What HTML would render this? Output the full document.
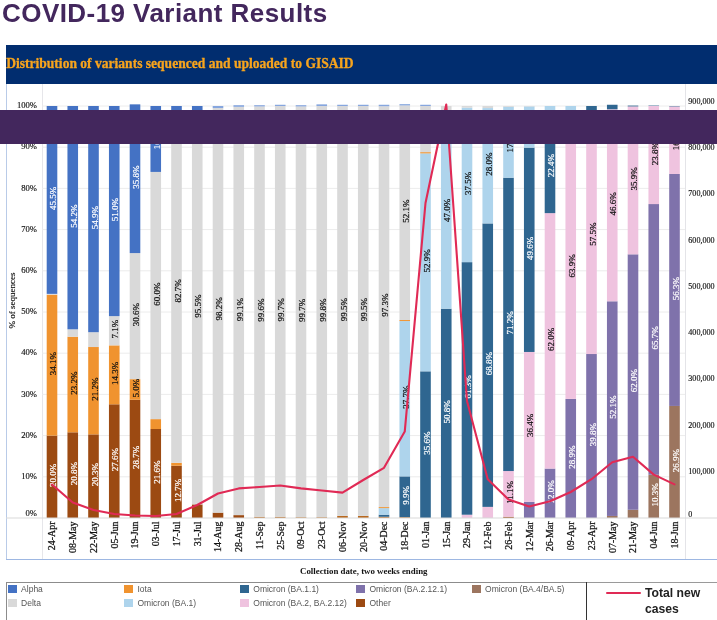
<!DOCTYPE html>
<html><head><meta charset="utf-8"><title>COVID-19 Variant Results</title>
<style>
html,body{margin:0;padding:0;background:#fff;}
body{width:717px;height:620px;position:relative;overflow:hidden;font-family:"Liberation Sans",sans-serif;}
h1{position:absolute;left:2px;top:-4.2px;margin:0;font:bold 26px/34px "Liberation Sans",sans-serif;color:#43275d;letter-spacing:0.44px;white-space:nowrap;transform-origin:0 0;}
.hdr{position:absolute;left:6px;top:44.7px;width:711px;height:39.2px;background:#012d6f;}
.hdr span{position:absolute;left:0.2px;top:1.1px;font:bold 13.55px/36px "Liberation Serif",serif;color:#f7a41d;-webkit-text-stroke:0.3px #f7a41d;white-space:nowrap;}
svg.chart{position:absolute;left:0;top:0;}
svg text{font-family:"Liberation Serif",serif;}
.band{position:absolute;left:0;top:110px;width:717px;height:34px;background:#43275d;}
.frameL{position:absolute;left:6px;top:84px;width:1px;height:476px;background:#b9cbe8;}
.frameB{position:absolute;left:6px;top:559.3px;width:711px;height:1.2px;background:#9db7e2;}
.v1{position:absolute;left:41.5px;top:84px;width:1px;height:476px;background:#e6e6ea;}
.v2{position:absolute;left:684.5px;top:84px;width:1px;height:476px;background:#e4e4e8;}
.xt{position:absolute;left:300px;top:564px;font:bold 8.85px/14px "Liberation Serif",serif;color:#111;white-space:nowrap;}
.leg{position:absolute;left:6px;top:581.5px;width:581px;height:40px;border-top:1px solid #8c8c8c;border-left:1px solid #8c8c8c;box-sizing:border-box;}
.li{position:absolute;font-size:8.5px;line-height:10px;color:#555;white-space:nowrap;}
.li i{position:absolute;left:0;top:0.6px;width:8.6px;height:8px;display:block;}
.li b{position:absolute;left:13.1px;top:-0.7px;font-weight:normal;}
.div{position:absolute;left:586.3px;top:582px;width:1.2px;height:38px;background:#333;}
.rtop{position:absolute;left:587px;top:581.5px;width:130px;height:1px;background:#9a9a9a;}
.rl{position:absolute;left:606px;top:591.9px;width:34.5px;height:2.6px;background:#e02a55;border-radius:1px;}
.tn{position:absolute;left:645px;top:584.8px;font:bold 12.2px/16.5px "Liberation Sans",sans-serif;color:#222;white-space:nowrap;}
</style></head><body>
<h1>COVID-19 Variant Results</h1>
<div class="hdr"><span>Distribution of variants sequenced and uploaded to GISAID</span></div>
<div class="frameL"></div><div class="v1"></div><div class="v2"></div>
<svg class="chart" width="717" height="620" viewBox="0 0 717 620">
<line x1="42" x2="685" y1="476.8" y2="476.8" stroke="#ececec" stroke-width="1"/>
<line x1="42" x2="685" y1="435.6" y2="435.6" stroke="#ececec" stroke-width="1"/>
<line x1="42" x2="685" y1="394.4" y2="394.4" stroke="#ececec" stroke-width="1"/>
<line x1="42" x2="685" y1="353.2" y2="353.2" stroke="#ececec" stroke-width="1"/>
<line x1="42" x2="685" y1="312.0" y2="312.0" stroke="#ececec" stroke-width="1"/>
<line x1="42" x2="685" y1="270.8" y2="270.8" stroke="#ececec" stroke-width="1"/>
<line x1="42" x2="685" y1="229.6" y2="229.6" stroke="#ececec" stroke-width="1"/>
<line x1="42" x2="685" y1="188.4" y2="188.4" stroke="#ececec" stroke-width="1"/>
<line x1="42" x2="685" y1="147.2" y2="147.2" stroke="#ececec" stroke-width="1"/>
<line x1="42" x2="685" y1="106.0" y2="106.0" stroke="#ececec" stroke-width="1"/>
<rect x="46.70" y="435.60" width="10.6" height="82.40" fill="#9c4a12"/>
<rect x="46.70" y="294.70" width="10.6" height="140.90" fill="#f0932f"/>
<rect x="46.70" y="293.87" width="10.6" height="0.82" fill="#d9d9d9"/>
<rect x="46.70" y="106.00" width="10.6" height="187.87" fill="#4472c4"/>
<rect x="67.45" y="432.30" width="10.6" height="85.70" fill="#9c4a12"/>
<rect x="67.45" y="336.72" width="10.6" height="95.58" fill="#f0932f"/>
<rect x="67.45" y="329.30" width="10.6" height="7.42" fill="#d9d9d9"/>
<rect x="67.45" y="106.00" width="10.6" height="223.30" fill="#4472c4"/>
<rect x="88.20" y="434.36" width="10.6" height="83.64" fill="#9c4a12"/>
<rect x="88.20" y="347.02" width="10.6" height="87.34" fill="#f0932f"/>
<rect x="88.20" y="332.19" width="10.6" height="14.83" fill="#d9d9d9"/>
<rect x="88.20" y="106.00" width="10.6" height="226.19" fill="#4472c4"/>
<rect x="108.95" y="404.29" width="10.6" height="113.71" fill="#9c4a12"/>
<rect x="108.95" y="345.37" width="10.6" height="58.92" fill="#f0932f"/>
<rect x="108.95" y="316.12" width="10.6" height="29.25" fill="#d9d9d9"/>
<rect x="108.95" y="106.00" width="10.6" height="210.12" fill="#4472c4"/>
<rect x="129.70" y="399.76" width="10.6" height="118.24" fill="#9c4a12"/>
<rect x="129.70" y="379.16" width="10.6" height="20.60" fill="#f0932f"/>
<rect x="129.70" y="253.08" width="10.6" height="126.07" fill="#d9d9d9"/>
<rect x="129.70" y="104.35" width="10.6" height="148.73" fill="#4472c4"/>
<rect x="150.45" y="429.01" width="10.6" height="88.99" fill="#9c4a12"/>
<rect x="150.45" y="419.12" width="10.6" height="9.89" fill="#f0932f"/>
<rect x="150.45" y="171.92" width="10.6" height="247.20" fill="#d9d9d9"/>
<rect x="150.45" y="106.00" width="10.6" height="65.92" fill="#4472c4"/>
<rect x="171.20" y="465.68" width="10.6" height="52.32" fill="#9c4a12"/>
<rect x="171.20" y="462.79" width="10.6" height="2.88" fill="#f0932f"/>
<rect x="171.20" y="122.07" width="10.6" height="340.72" fill="#d9d9d9"/>
<rect x="171.20" y="106.00" width="10.6" height="16.07" fill="#4472c4"/>
<rect x="191.95" y="504.40" width="10.6" height="13.60" fill="#9c4a12"/>
<rect x="191.95" y="110.94" width="10.6" height="393.46" fill="#d9d9d9"/>
<rect x="191.95" y="106.00" width="10.6" height="4.94" fill="#4472c4"/>
<rect x="212.70" y="512.64" width="10.6" height="5.36" fill="#9c4a12"/>
<rect x="212.70" y="108.06" width="10.6" height="404.58" fill="#d9d9d9"/>
<rect x="212.70" y="106.00" width="10.6" height="2.06" fill="#86a6de"/>
<rect x="233.45" y="515.12" width="10.6" height="2.88" fill="#9c4a12"/>
<rect x="233.45" y="106.82" width="10.6" height="408.29" fill="#d9d9d9"/>
<rect x="233.45" y="105.18" width="10.6" height="1.65" fill="#86a6de"/>
<rect x="254.20" y="516.76" width="10.6" height="1.24" fill="#b8691f"/>
<rect x="254.20" y="106.41" width="10.6" height="410.35" fill="#d9d9d9"/>
<rect x="254.20" y="105.18" width="10.6" height="1.24" fill="#86a6de"/>
<rect x="274.95" y="516.76" width="10.6" height="1.24" fill="#b8691f"/>
<rect x="274.95" y="106.00" width="10.6" height="410.76" fill="#d9d9d9"/>
<rect x="274.95" y="104.76" width="10.6" height="1.24" fill="#86a6de"/>
<rect x="295.70" y="517.18" width="10.6" height="0.82" fill="#b8691f"/>
<rect x="295.70" y="106.41" width="10.6" height="410.76" fill="#d9d9d9"/>
<rect x="295.70" y="105.18" width="10.6" height="1.24" fill="#86a6de"/>
<rect x="316.45" y="517.18" width="10.6" height="0.82" fill="#b8691f"/>
<rect x="316.45" y="106.00" width="10.6" height="411.18" fill="#d9d9d9"/>
<rect x="316.45" y="104.35" width="10.6" height="1.65" fill="#86a6de"/>
<rect x="337.20" y="515.94" width="10.6" height="2.06" fill="#b8691f"/>
<rect x="337.20" y="106.00" width="10.6" height="409.94" fill="#d9d9d9"/>
<rect x="337.20" y="104.76" width="10.6" height="1.24" fill="#86a6de"/>
<rect x="357.95" y="515.94" width="10.6" height="2.06" fill="#b8691f"/>
<rect x="357.95" y="106.00" width="10.6" height="409.94" fill="#d9d9d9"/>
<rect x="357.95" y="104.76" width="10.6" height="1.24" fill="#86a6de"/>
<rect x="378.70" y="516.76" width="10.6" height="1.24" fill="#b8691f"/>
<rect x="378.70" y="514.70" width="10.6" height="2.06" fill="#2f6690"/>
<rect x="378.70" y="508.11" width="10.6" height="6.59" fill="#aed4ec"/>
<rect x="378.70" y="507.08" width="10.6" height="1.03" fill="#f0932f"/>
<rect x="378.70" y="106.21" width="10.6" height="400.88" fill="#d9d9d9"/>
<rect x="378.70" y="104.76" width="10.6" height="1.44" fill="#86a6de"/>
<rect x="399.45" y="517.18" width="10.6" height="0.82" fill="#b8691f"/>
<rect x="399.45" y="476.39" width="10.6" height="40.79" fill="#2f6690"/>
<rect x="399.45" y="321.06" width="10.6" height="155.32" fill="#aed4ec"/>
<rect x="399.45" y="320.03" width="10.6" height="1.03" fill="#f0932f"/>
<rect x="399.45" y="105.38" width="10.6" height="214.65" fill="#d9d9d9"/>
<rect x="399.45" y="104.15" width="10.6" height="1.24" fill="#86a6de"/>
<rect x="420.20" y="371.33" width="10.6" height="146.67" fill="#2f6690"/>
<rect x="420.20" y="153.38" width="10.6" height="217.95" fill="#aed4ec"/>
<rect x="420.20" y="152.14" width="10.6" height="1.24" fill="#f0932f"/>
<rect x="420.20" y="106.00" width="10.6" height="46.14" fill="#d9d9d9"/>
<rect x="420.20" y="104.76" width="10.6" height="1.24" fill="#86a6de"/>
<rect x="440.95" y="308.70" width="10.6" height="209.30" fill="#2f6690"/>
<rect x="440.95" y="115.06" width="10.6" height="193.64" fill="#aed4ec"/>
<rect x="440.95" y="106.00" width="10.6" height="9.06" fill="#d9d9d9"/>
<rect x="461.70" y="514.70" width="10.6" height="3.30" fill="#efc3df"/>
<rect x="461.70" y="262.15" width="10.6" height="252.56" fill="#2f6690"/>
<rect x="461.70" y="107.65" width="10.6" height="154.50" fill="#aed4ec"/>
<rect x="461.70" y="106.00" width="10.6" height="1.65" fill="#d9d9d9"/>
<rect x="482.45" y="506.88" width="10.6" height="11.12" fill="#efc3df"/>
<rect x="482.45" y="223.42" width="10.6" height="283.46" fill="#2f6690"/>
<rect x="482.45" y="108.06" width="10.6" height="115.36" fill="#aed4ec"/>
<rect x="482.45" y="106.00" width="10.6" height="2.06" fill="#d9d9d9"/>
<rect x="503.20" y="516.76" width="10.6" height="1.24" fill="#9c4a12"/>
<rect x="503.20" y="471.03" width="10.6" height="45.73" fill="#efc3df"/>
<rect x="503.20" y="177.69" width="10.6" height="293.34" fill="#2f6690"/>
<rect x="503.20" y="106.82" width="10.6" height="70.86" fill="#aed4ec"/>
<rect x="503.20" y="106.00" width="10.6" height="0.82" fill="#d9d9d9"/>
<rect x="523.95" y="501.93" width="10.6" height="16.07" fill="#7f72ab"/>
<rect x="523.95" y="351.96" width="10.6" height="149.97" fill="#efc3df"/>
<rect x="523.95" y="147.61" width="10.6" height="204.35" fill="#2f6690"/>
<rect x="523.95" y="106.41" width="10.6" height="41.20" fill="#aed4ec"/>
<rect x="523.95" y="106.00" width="10.6" height="0.41" fill="#d9d9d9"/>
<rect x="544.70" y="468.56" width="10.6" height="49.44" fill="#7f72ab"/>
<rect x="544.70" y="213.12" width="10.6" height="255.44" fill="#efc3df"/>
<rect x="544.70" y="120.83" width="10.6" height="92.29" fill="#2f6690"/>
<rect x="544.70" y="106.00" width="10.6" height="14.83" fill="#aed4ec"/>
<rect x="565.45" y="398.93" width="10.6" height="119.07" fill="#7f72ab"/>
<rect x="565.45" y="135.66" width="10.6" height="263.27" fill="#efc3df"/>
<rect x="565.45" y="110.12" width="10.6" height="25.54" fill="#2f6690"/>
<rect x="565.45" y="106.00" width="10.6" height="4.12" fill="#aed4ec"/>
<rect x="586.20" y="354.02" width="10.6" height="163.98" fill="#7f72ab"/>
<rect x="586.20" y="117.12" width="10.6" height="236.90" fill="#efc3df"/>
<rect x="586.20" y="106.00" width="10.6" height="11.12" fill="#2f6690"/>
<rect x="606.95" y="515.94" width="10.6" height="2.06" fill="#9c755f"/>
<rect x="606.95" y="301.29" width="10.6" height="214.65" fill="#7f72ab"/>
<rect x="606.95" y="109.30" width="10.6" height="191.99" fill="#efc3df"/>
<rect x="606.95" y="104.76" width="10.6" height="4.53" fill="#2f6690"/>
<rect x="627.70" y="509.76" width="10.6" height="8.24" fill="#9c755f"/>
<rect x="627.70" y="254.32" width="10.6" height="255.44" fill="#7f72ab"/>
<rect x="627.70" y="106.41" width="10.6" height="147.91" fill="#efc3df"/>
<rect x="627.70" y="105.59" width="10.6" height="0.82" fill="#2f6690"/>
<rect x="648.45" y="474.74" width="10.6" height="43.26" fill="#9c755f"/>
<rect x="648.45" y="204.06" width="10.6" height="270.68" fill="#7f72ab"/>
<rect x="648.45" y="106.00" width="10.6" height="98.06" fill="#efc3df"/>
<rect x="648.45" y="105.59" width="10.6" height="0.41" fill="#2f6690"/>
<rect x="669.20" y="405.94" width="10.6" height="112.06" fill="#9c755f"/>
<rect x="669.20" y="173.98" width="10.6" height="231.96" fill="#7f72ab"/>
<rect x="669.20" y="106.41" width="10.6" height="67.57" fill="#efc3df"/>
<rect x="669.20" y="106.00" width="10.6" height="0.41" fill="#2f6690"/>
<g font-size="9" stroke-width="0.2"><text transform="translate(56.10,475.3) rotate(-90)" text-anchor="middle" fill="#fff" stroke="#fff">20.0%</text><text transform="translate(56.10,363.6) rotate(-90)" text-anchor="middle" fill="#111" stroke="#111">34.1%</text><text transform="translate(56.10,198.4) rotate(-90)" text-anchor="middle" fill="#fff" stroke="#fff">45.5%</text><text transform="translate(76.85,473.7) rotate(-90)" text-anchor="middle" fill="#fff" stroke="#fff">20.8%</text><text transform="translate(76.85,383.0) rotate(-90)" text-anchor="middle" fill="#111" stroke="#111">23.2%</text><text transform="translate(76.85,216.2) rotate(-90)" text-anchor="middle" fill="#fff" stroke="#fff">54.2%</text><text transform="translate(97.60,474.7) rotate(-90)" text-anchor="middle" fill="#fff" stroke="#fff">20.3%</text><text transform="translate(97.60,389.2) rotate(-90)" text-anchor="middle" fill="#111" stroke="#111">21.2%</text><text transform="translate(97.60,217.6) rotate(-90)" text-anchor="middle" fill="#fff" stroke="#fff">54.9%</text><text transform="translate(118.35,459.6) rotate(-90)" text-anchor="middle" fill="#fff" stroke="#fff">27.6%</text><text transform="translate(118.35,373.3) rotate(-90)" text-anchor="middle" fill="#111" stroke="#111">14.3%</text><text transform="translate(118.35,329.2) rotate(-90)" text-anchor="middle" fill="#111" stroke="#111">7.1%</text><text transform="translate(118.35,209.6) rotate(-90)" text-anchor="middle" fill="#fff" stroke="#fff">51.0%</text><text transform="translate(139.10,457.4) rotate(-90)" text-anchor="middle" fill="#fff" stroke="#fff">28.7%</text><text transform="translate(139.10,388.0) rotate(-90)" text-anchor="middle" fill="#111" stroke="#111">5.0%</text><text transform="translate(139.10,314.6) rotate(-90)" text-anchor="middle" fill="#111" stroke="#111">30.6%</text><text transform="translate(139.10,177.2) rotate(-90)" text-anchor="middle" fill="#fff" stroke="#fff">35.8%</text><text transform="translate(159.85,472.0) rotate(-90)" text-anchor="middle" fill="#fff" stroke="#fff">21.6%</text><text transform="translate(159.85,294.0) rotate(-90)" text-anchor="middle" fill="#111" stroke="#111">60.0%</text><text transform="translate(159.85,137.5) rotate(-90)" text-anchor="middle" fill="#fff" stroke="#fff">16.0%</text><text transform="translate(180.60,490.3) rotate(-90)" text-anchor="middle" fill="#fff" stroke="#fff">12.7%</text><text transform="translate(180.60,290.9) rotate(-90)" text-anchor="middle" fill="#111" stroke="#111">82.7%</text><text transform="translate(201.35,306.2) rotate(-90)" text-anchor="middle" fill="#111" stroke="#111">95.5%</text><text transform="translate(222.10,308.9) rotate(-90)" text-anchor="middle" fill="#111" stroke="#111">98.2%</text><text transform="translate(242.85,309.5) rotate(-90)" text-anchor="middle" fill="#111" stroke="#111">99.1%</text><text transform="translate(263.60,310.1) rotate(-90)" text-anchor="middle" fill="#111" stroke="#111">99.6%</text><text transform="translate(284.35,309.9) rotate(-90)" text-anchor="middle" fill="#111" stroke="#111">99.7%</text><text transform="translate(305.10,310.3) rotate(-90)" text-anchor="middle" fill="#111" stroke="#111">99.7%</text><text transform="translate(325.85,310.1) rotate(-90)" text-anchor="middle" fill="#111" stroke="#111">99.8%</text><text transform="translate(346.60,309.5) rotate(-90)" text-anchor="middle" fill="#111" stroke="#111">99.5%</text><text transform="translate(367.35,309.5) rotate(-90)" text-anchor="middle" fill="#111" stroke="#111">99.5%</text><text transform="translate(388.10,305.1) rotate(-90)" text-anchor="middle" fill="#111" stroke="#111">97.3%</text><text transform="translate(408.85,495.3) rotate(-90)" text-anchor="middle" fill="#fff" stroke="#fff">9.9%</text><text transform="translate(408.85,397.2) rotate(-90)" text-anchor="middle" fill="#111" stroke="#111">37.7%</text><text transform="translate(408.85,211.2) rotate(-90)" text-anchor="middle" fill="#111" stroke="#111">52.1%</text><text transform="translate(429.60,443.2) rotate(-90)" text-anchor="middle" fill="#fff" stroke="#fff">35.6%</text><text transform="translate(429.60,260.9) rotate(-90)" text-anchor="middle" fill="#111" stroke="#111">52.9%</text><text transform="translate(429.60,127.6) rotate(-90)" text-anchor="middle" fill="#111" stroke="#111">11.2%</text><text transform="translate(450.35,411.9) rotate(-90)" text-anchor="middle" fill="#fff" stroke="#fff">50.8%</text><text transform="translate(450.35,210.4) rotate(-90)" text-anchor="middle" fill="#111" stroke="#111">47.0%</text><text transform="translate(471.10,386.9) rotate(-90)" text-anchor="middle" fill="#fff" stroke="#fff">61.3%</text><text transform="translate(471.10,183.4) rotate(-90)" text-anchor="middle" fill="#111" stroke="#111">37.5%</text><text transform="translate(491.85,363.6) rotate(-90)" text-anchor="middle" fill="#fff" stroke="#fff">68.8%</text><text transform="translate(491.85,164.2) rotate(-90)" text-anchor="middle" fill="#111" stroke="#111">28.0%</text><text transform="translate(512.60,492.4) rotate(-90)" text-anchor="middle" fill="#111" stroke="#111">11.1%</text><text transform="translate(512.60,322.9) rotate(-90)" text-anchor="middle" fill="#fff" stroke="#fff">71.2%</text><text transform="translate(512.60,140.8) rotate(-90)" text-anchor="middle" fill="#111" stroke="#111">17.2%</text><text transform="translate(533.35,425.4) rotate(-90)" text-anchor="middle" fill="#111" stroke="#111">36.4%</text><text transform="translate(533.35,248.3) rotate(-90)" text-anchor="middle" fill="#fff" stroke="#fff">49.6%</text><text transform="translate(533.35,125.5) rotate(-90)" text-anchor="middle" fill="#111" stroke="#111">10.0%</text><text transform="translate(554.10,491.8) rotate(-90)" text-anchor="middle" fill="#fff" stroke="#fff">12.0%</text><text transform="translate(554.10,339.3) rotate(-90)" text-anchor="middle" fill="#111" stroke="#111">62.0%</text><text transform="translate(554.10,165.5) rotate(-90)" text-anchor="middle" fill="#fff" stroke="#fff">22.4%</text><text transform="translate(574.85,457.0) rotate(-90)" text-anchor="middle" fill="#fff" stroke="#fff">28.9%</text><text transform="translate(574.85,265.8) rotate(-90)" text-anchor="middle" fill="#111" stroke="#111">63.9%</text><text transform="translate(574.85,121.4) rotate(-90)" text-anchor="middle" fill="#fff" stroke="#fff">6.2%</text><text transform="translate(595.60,434.5) rotate(-90)" text-anchor="middle" fill="#fff" stroke="#fff">39.8%</text><text transform="translate(595.60,234.1) rotate(-90)" text-anchor="middle" fill="#111" stroke="#111">57.5%</text><text transform="translate(616.35,407.1) rotate(-90)" text-anchor="middle" fill="#fff" stroke="#fff">52.1%</text><text transform="translate(616.35,203.8) rotate(-90)" text-anchor="middle" fill="#111" stroke="#111">46.6%</text><text transform="translate(637.10,380.5) rotate(-90)" text-anchor="middle" fill="#fff" stroke="#fff">62.0%</text><text transform="translate(637.10,178.9) rotate(-90)" text-anchor="middle" fill="#111" stroke="#111">35.9%</text><text transform="translate(657.85,494.9) rotate(-90)" text-anchor="middle" fill="#fff" stroke="#fff">10.3%</text><text transform="translate(657.85,337.9) rotate(-90)" text-anchor="middle" fill="#fff" stroke="#fff">65.7%</text><text transform="translate(657.85,153.5) rotate(-90)" text-anchor="middle" fill="#111" stroke="#111">23.8%</text><text transform="translate(678.60,460.5) rotate(-90)" text-anchor="middle" fill="#fff" stroke="#fff">26.9%</text><text transform="translate(678.60,288.5) rotate(-90)" text-anchor="middle" fill="#fff" stroke="#fff">56.3%</text><text transform="translate(678.60,138.7) rotate(-90)" text-anchor="middle" fill="#111" stroke="#111">16.4%</text></g>
<line x1="6" x2="717" y1="518" y2="518" stroke="#d9d9d9" stroke-width="1"/>
<polyline points="52.00,484.5 72.75,502.5 93.50,510 114.25,514 135.00,515.5 155.75,516 176.50,514 197.25,505 218.00,493.5 238.75,488.4 259.50,487 280.25,485.5 301.00,488.4 321.75,490.5 342.50,492.6 363.25,480 384.00,467.8 404.75,431.6 425.50,203 446.25,104.5 467.00,401 487.75,479.3 508.50,499.5 529.25,506.5 550.00,501.3 570.75,492 591.50,479.2 612.25,462.3 633.00,456.8 653.75,474.6 674.50,484.4" fill="none" stroke="#e02a55" stroke-width="2.1" stroke-linejoin="round" stroke-linecap="round"/>
<g font-size="9.95" fill="#111" stroke="#111" stroke-width="0.25"><text transform="translate(55.40,521.5) rotate(-90)" text-anchor="end">24-Apr</text><text transform="translate(76.15,521.5) rotate(-90)" text-anchor="end">08-May</text><text transform="translate(96.90,521.5) rotate(-90)" text-anchor="end">22-May</text><text transform="translate(117.65,521.5) rotate(-90)" text-anchor="end">05-Jun</text><text transform="translate(138.40,521.5) rotate(-90)" text-anchor="end">19-Jun</text><text transform="translate(159.15,521.5) rotate(-90)" text-anchor="end">03-Jul</text><text transform="translate(179.90,521.5) rotate(-90)" text-anchor="end">17-Jul</text><text transform="translate(200.65,521.5) rotate(-90)" text-anchor="end">31-Jul</text><text transform="translate(221.40,521.5) rotate(-90)" text-anchor="end">14-Aug</text><text transform="translate(242.15,521.5) rotate(-90)" text-anchor="end">28-Aug</text><text transform="translate(262.90,521.5) rotate(-90)" text-anchor="end">11-Sep</text><text transform="translate(283.65,521.5) rotate(-90)" text-anchor="end">25-Sep</text><text transform="translate(304.40,521.5) rotate(-90)" text-anchor="end">09-Oct</text><text transform="translate(325.15,521.5) rotate(-90)" text-anchor="end">23-Oct</text><text transform="translate(345.90,521.5) rotate(-90)" text-anchor="end">06-Nov</text><text transform="translate(366.65,521.5) rotate(-90)" text-anchor="end">20-Nov</text><text transform="translate(387.40,521.5) rotate(-90)" text-anchor="end">04-Dec</text><text transform="translate(408.15,521.5) rotate(-90)" text-anchor="end">18-Dec</text><text transform="translate(428.90,521.5) rotate(-90)" text-anchor="end">01-Jan</text><text transform="translate(449.65,521.5) rotate(-90)" text-anchor="end">15-Jan</text><text transform="translate(470.40,521.5) rotate(-90)" text-anchor="end">29-Jan</text><text transform="translate(491.15,521.5) rotate(-90)" text-anchor="end">12-Feb</text><text transform="translate(511.90,521.5) rotate(-90)" text-anchor="end">26-Feb</text><text transform="translate(532.65,521.5) rotate(-90)" text-anchor="end">12-Mar</text><text transform="translate(553.40,521.5) rotate(-90)" text-anchor="end">26-Mar</text><text transform="translate(574.15,521.5) rotate(-90)" text-anchor="end">09-Apr</text><text transform="translate(594.90,521.5) rotate(-90)" text-anchor="end">23-Apr</text><text transform="translate(615.65,521.5) rotate(-90)" text-anchor="end">07-May</text><text transform="translate(636.40,521.5) rotate(-90)" text-anchor="end">21-May</text><text transform="translate(657.15,521.5) rotate(-90)" text-anchor="end">04-Jun</text><text transform="translate(677.90,521.5) rotate(-90)" text-anchor="end">18-Jun</text></g>
<g font-size="8.6" fill="#111" stroke="#111" stroke-width="0.15"><text x="37" y="516.3" text-anchor="end">0%</text><text x="37" y="479.0" text-anchor="end">10%</text><text x="37" y="437.8" text-anchor="end">20%</text><text x="37" y="396.6" text-anchor="end">30%</text><text x="37" y="355.4" text-anchor="end">40%</text><text x="37" y="314.2" text-anchor="end">50%</text><text x="37" y="273.0" text-anchor="end">60%</text><text x="37" y="231.8" text-anchor="end">70%</text><text x="37" y="190.6" text-anchor="end">80%</text><text x="37" y="149.4" text-anchor="end">90%</text><text x="37" y="108.2" text-anchor="end">100%</text></g>
<g font-size="8.1" fill="#111" stroke="#111" stroke-width="0.15"><text x="688.3" y="517.0">0</text><text x="688.3" y="474.0">100,000</text><text x="688.3" y="427.7">200,000</text><text x="688.3" y="381.4">300,000</text><text x="688.3" y="335.1">400,000</text><text x="688.3" y="288.9">500,000</text><text x="688.3" y="242.6">600,000</text><text x="688.3" y="196.3">700,000</text><text x="688.3" y="150.0">800,000</text><text x="688.3" y="103.7">900,000</text></g>
<text transform="translate(15.3,300.6) rotate(-90)" text-anchor="middle" font-size="9" fill="#111" stroke="#111" stroke-width="0.15">% of sequences</text>
</svg>
<div class="frameB"></div>
<div class="band"></div>
<div class="xt">Collection date, two weeks ending</div>
<div class="leg"></div>
<div class="li" style="left:8px;top:584.5px"><i style="background:#4472c4"></i><b>Alpha</b></div>
<div class="li" style="left:8px;top:598.3px"><i style="background:#d9d9d9"></i><b>Delta</b></div>
<div class="li" style="left:124.4px;top:584.5px"><i style="background:#f0932f"></i><b>Iota</b></div>
<div class="li" style="left:124.4px;top:598.3px"><i style="background:#aed4ec"></i><b>Omicron (BA.1)</b></div>
<div class="li" style="left:240.2px;top:584.5px"><i style="background:#2f6690"></i><b>Omicron (BA.1.1)</b></div>
<div class="li" style="left:240.2px;top:598.3px"><i style="background:#efc3df"></i><b>Omicron (BA.2, BA.2.12)</b></div>
<div class="li" style="left:356.4px;top:584.5px"><i style="background:#7f72ab"></i><b>Omicron (BA.2.12.1)</b></div>
<div class="li" style="left:356.4px;top:598.3px"><i style="background:#9c4a12"></i><b>Other</b></div>
<div class="li" style="left:472px;top:584.5px"><i style="background:#9c755f"></i><b>Omicron (BA.4/BA.5)</b></div>
<div class="rtop"></div><div class="div"></div>
<div class="rl"></div>
<div class="tn">Total new<br>cases</div>
</body></html>
